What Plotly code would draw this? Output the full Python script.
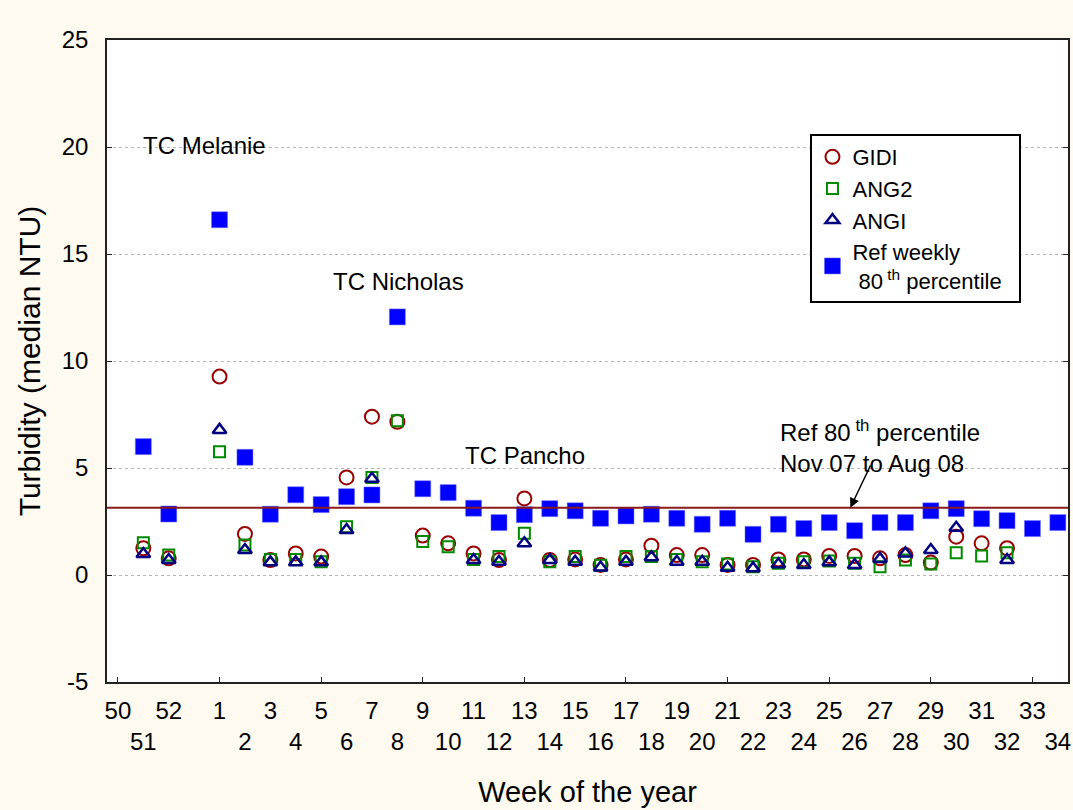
import plotly.graph_objects as go

# ---- data ----
# week slots along the x axis; None marks the empty slot between the two years
weeks = [50, 51, 52, None, 1, 2, 3, 4, 5, 6, 7, 8, 9, 10, 11, 12, 13, 14, 15, 16, 17,
         18, 19, 20, 21, 22, 23, 24, 25, 26, 27, 28, 29, 30, 31, 32, 33, 34]

gidi = [None, 1.25, 0.78, None, 9.27, 1.92, 0.70, 1.01, 0.86, 4.56, 7.40, 7.16, 1.84, 1.48,
        1.01, 0.70, 3.58, 0.70, 0.73, 0.47, 0.73, 1.37, 0.93, 0.93, 0.47, 0.47, 0.73, 0.73,
        0.89, 0.89, 0.78, 0.93, 0.58, 1.79, 1.48, 1.25, None, None]
ang2 = [None, 1.51, 0.93, None, 5.76, 1.40, 0.73, 0.73, 0.62, 2.26, 4.56, 7.21, 1.56, 1.32,
        0.73, 0.86, 1.95, 0.62, 0.86, 0.45, 0.86, 0.86, 0.73, 0.62, 0.51, 0.39, 0.55, 0.62,
        0.65, 0.55, 0.39, 0.70, 0.51, 1.04, 0.89, 1.04, None, None]
angi = [None, 0.98, 0.70, None, 6.78, 1.17, 0.59, 0.59, 0.59, 2.10, 4.50, None, None, None,
        0.70, 0.62, 1.48, 0.70, 0.62, 0.35, 0.62, 0.83, 0.62, 0.62, 0.34, 0.31, 0.50, 0.47,
        0.59, 0.47, 0.75, 1.01, 1.17, 2.21, None, 0.70, None, None]
ref_weekly = [None, 6.0, 2.85, None, 16.6, 5.5, 2.84, 3.75, 3.29, 3.66, 3.74, 12.06, 4.03, 3.85,
              3.12, 2.45, 2.82, 3.10, 3.0, 2.65, 2.76, 2.84, 2.65, 2.37, 2.65, 1.90, 2.37, 2.17,
              2.45, 2.07, 2.45, 2.45, 3.0, 3.10, 2.63, 2.54, 2.17, 2.45]
ref_p80 = 3.14

y_ticks = [-5, 0, 5, 10, 15, 20, 25]
y_ticklabels = ["-5", "0", "5", "10", "15", "20", "25"]

# ---- build ----
FONT = "Liberation Sans, Arial, sans-serif"
xpos = list(range(len(weeks)))

tickvals, ticktext = [], []
for i, w in zip(xpos, weeks):
    if w is None:
        continue
    tickvals.append(i)
    ticktext.append(str(w) if i % 2 == 0 else "<br>" + str(w))

fig = go.Figure()
fig.add_trace(go.Scatter(x=xpos, y=gidi, mode="markers", name="GIDI",
                         marker=dict(symbol="circle-open", size=14, color="#990000",
                                     line=dict(width=2, color="#990000"))))
fig.add_trace(go.Scatter(x=xpos, y=ang2, mode="markers", name="ANG2",
                         marker=dict(symbol="square-open", size=11, color="#008a00",
                                     line=dict(width=2, color="#008a00"))))
fig.add_trace(go.Scatter(x=xpos, y=angi, mode="markers", name="ANGI",
                         marker=dict(symbol="triangle-up-open", size=12, color="#000080",
                                     line=dict(width=2.5, color="#000080"))))
fig.add_trace(go.Scatter(x=xpos, y=ref_weekly, mode="markers",
                         name="Ref weekly<br> 80<sup> th</sup> percentile  ",
                         marker=dict(symbol="square", size=16, color="#0000ff",
                                     line=dict(width=0.5, color="#6f6fff"))))
# overlay axis only for the inside tick marks
fig.add_trace(go.Scatter(x=[0], y=[None], xaxis="x2", showlegend=False, hoverinfo="skip"))

fig.add_shape(type="line", xref="paper", x0=0, x1=1, yref="y", y0=ref_p80, y1=ref_p80,
              line=dict(color="#8b1a1a", width=2))

xr = [-0.43, 37.4]
ann_font = dict(family=FONT, size=24, color="#000000")
fig.add_annotation(x=3.42, y=20.05, text="TC Melanie", showarrow=False, font=ann_font)
fig.add_annotation(x=11.04, y=13.7, text="TC Nicholas", showarrow=False, font=ann_font)
fig.add_annotation(x=16.02, y=5.6, text="TC Pancho", showarrow=False, font=ann_font)
fig.add_annotation(x=26.0, y=6.0, xanchor="left", align="left",
                   text="Ref 80<sup> th</sup> percentile<br>Nov 07 to Aug 08",
                   showarrow=False, font=ann_font)
fig.add_annotation(x=28.83, y=ref_p80, text="", showarrow=True, ax=21, ay=-44,
                   arrowhead=2, arrowsize=1.3, arrowwidth=1.5, arrowcolor="#000000")

fig.update_layout(
    width=1073, height=810,
    margin=dict(l=107, r=3, t=40, b=128),
    paper_bgcolor="#fefaf0", plot_bgcolor="#ffffff",
    font=dict(family=FONT, size=24, color="#000000"),
    showlegend=True,
    legend=dict(x=0.732, y=0.8536, xanchor="left", yanchor="top",
                bgcolor="#ffffff", bordercolor="#000000", borderwidth=2,
                font=dict(family=FONT, size=22), tracegroupgap=0),
    xaxis=dict(range=xr, tickvals=tickvals, ticktext=ticktext, ticks="", tickangle=0,
               showgrid=False, zeroline=False, showline=True, mirror=True,
               linecolor="#222222", linewidth=1.5, ticklabelstandoff=6,
               tickfont=dict(family=FONT, size=24),
               title=dict(text="Week of the year", font=dict(family=FONT, size=29),
                          standoff=28)),
    xaxis2=dict(range=xr, overlaying="x", side="bottom", anchor="y",
                tickvals=list(range(0, 38, 4)), ticks="inside", ticklen=5,
                tickcolor="#222222", showticklabels=False, showgrid=False,
                zeroline=False, showline=False),
    yaxis=dict(range=[-5, 25], tickvals=y_ticks, ticktext=y_ticklabels,
               ticks="inside", ticklen=5,
               tickcolor="#222222", showgrid=True, gridcolor="#b4b4b4",
               griddash="dot", gridwidth=1, zeroline=False, showline=True,
               mirror="ticks", linecolor="#222222", linewidth=1.5,
               ticklabelstandoff=12,
               tickfont=dict(family=FONT, size=24),
               title=dict(text="Turbidity (median NTU)", font=dict(family=FONT, size=30),
                          standoff=12)),
)

fig.write_html("out.html")
